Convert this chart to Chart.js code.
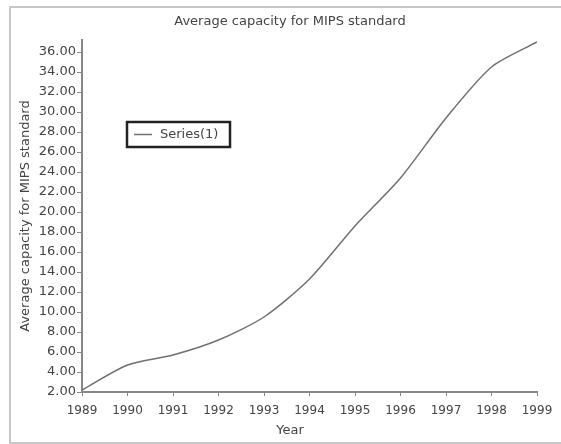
<!DOCTYPE html>
<html>
<head>
<meta charset="utf-8">
<script src="https://cdn.jsdelivr.net/npm/chart.js@4/dist/chart.umd.min.js"></script>
<style>
  html, body { margin: 0; padding: 0; background: #fff; }
</style>
</head>
<body>
<canvas id="chart" width="561" height="444"></canvas>
<script>
// ── Données ──
const YEARS = [1989, 1990, 1991, 1992, 1993, 1994, 1995, 1996, 1997, 1998, 1999];
const CAPACITY = [2.2, 4.7, 5.7, 7.2, 9.5, 13.3, 18.6, 23.4, 29.4, 34.5, 37.0];
const Y_TICKS = [2, 4, 6, 8, 10, 12, 14, 16, 18, 20, 22, 24, 26, 28, 30, 32, 34, 36];
const SERIES_LABEL = 'Series(1)';
const TITLE = 'Average capacity for MIPS standard';
const X_TITLE = 'Year';

const FONT = 'DejaVu Sans';
const TEXT = '#444';
const AXIS = '#888';

// Cadre gris + titres (centrés sur x=290 comme l'original, pas sur la zone de tracé)
const framePlugin = {
  id: 'frame',
  beforeDraw(chart) {
    const { ctx } = chart;
    ctx.save();
    ctx.strokeStyle = '#c8c8c8';
    ctx.lineWidth = 2;
    ctx.strokeRect(10, 7, 570, 436);
    ctx.restore();
  },
  afterDraw(chart) {
    const { ctx } = chart;
    ctx.save();
    ctx.fillStyle = TEXT;
    ctx.font = '13px "' + FONT + '"';
    ctx.textAlign = 'center';
    ctx.textBaseline = 'middle';
    ctx.fillText(TITLE, 290, 22);
    ctx.fillText(X_TITLE, 290, 431);
    ctx.restore();
  },
};

// Légende encadrée, posée dans la zone de tracé
const legendBoxPlugin = {
  id: 'legendBox',
  afterDraw(chart) {
    const { ctx } = chart;
    const ds = chart.data.datasets[0];
    ctx.save();
    ctx.strokeStyle = '#222';
    ctx.lineWidth = 2.5;
    ctx.strokeRect(127, 122, 103, 25);

    ctx.beginPath();
    ctx.moveTo(134, 134.5);
    ctx.lineTo(152, 134.5);
    ctx.strokeStyle = ds.borderColor;
    ctx.lineWidth = 1.5;
    ctx.stroke();

    ctx.fillStyle = TEXT;
    ctx.font = '13px "' + FONT + '"';
    ctx.textBaseline = 'middle';
    ctx.fillText(ds.label, 160, 135);
    ctx.restore();
  },
};

new Chart(document.getElementById('chart'), {
  type: 'line',
  plugins: [framePlugin, legendBoxPlugin],
  data: {
    datasets: [{
      label: SERIES_LABEL,
      data: YEARS.map((y, i) => ({ x: y, y: CAPACITY[i] })),
      borderColor: '#707070',
      borderWidth: 1.5,
      pointRadius: 0,
      tension: 0.25,
      fill: false,
    }],
  },
  options: {
    responsive: false,
    animation: false,
    layout: { padding: { left: 10, right: 24, top: 40, bottom: 0 } },
    plugins: {
      legend: { display: false },
      tooltip: { enabled: false },
      title: { display: false },
    },
    scales: {
      x: {
        type: 'linear',
        min: YEARS[0],
        max: YEARS[YEARS.length - 1],
        afterFit(scale) { scale.height = 52; },
        border: { color: AXIS, width: 2 },
        grid: { drawOnChartArea: false, color: AXIS, tickLength: 4 },
        ticks: {
          stepSize: 1,
          color: TEXT,
          padding: 8,
          maxRotation: 0,
          font: { family: FONT, size: 12 },
          callback: v => String(v),
        },
      },
      y: {
        type: 'linear',
        min: 2,
        max: 37.2,
        afterFit(scale) { scale.width = 72; },
        afterBuildTicks(scale) { scale.ticks = Y_TICKS.map(v => ({ value: v })); },
        border: { color: AXIS, width: 2 },
        grid: { drawOnChartArea: false, color: AXIS, tickLength: 5 },
        ticks: {
          color: TEXT,
          padding: 1,
          font: { family: FONT, size: 13 },
          callback: v => Number(v).toFixed(2),
        },
        title: {
          display: true,
          text: TITLE,
          color: TEXT,
          font: { family: FONT, size: 13 },
          padding: { top: 8, bottom: 0 },
        },
      },
    },
  },
});
</script>
</body>
</html>
